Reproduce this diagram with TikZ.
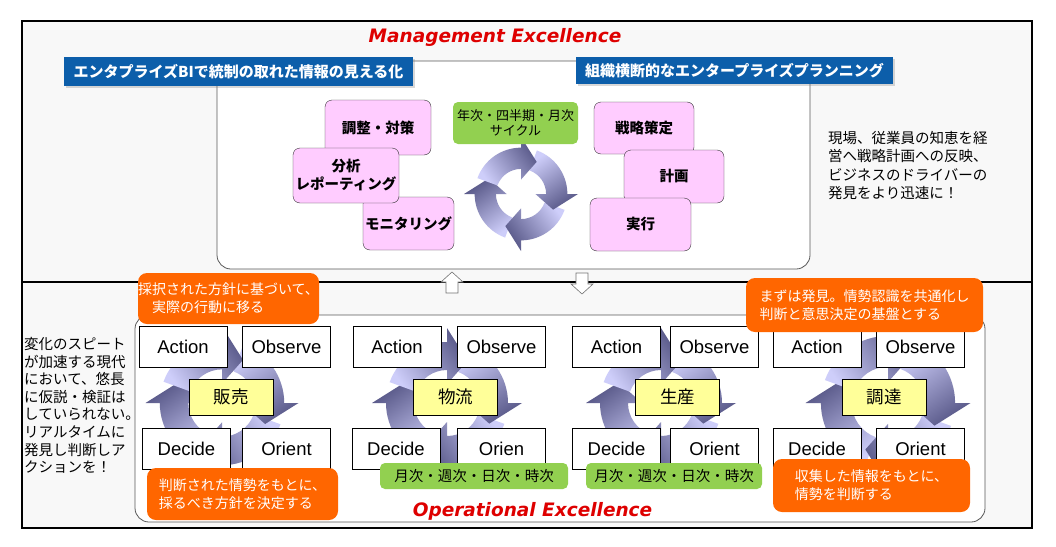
\documentclass[tikz,border=0pt]{standalone}
\usepackage{fontspec}
\setmainfont{Noto Sans CJK JP}
\newfontfamily\latinfont{Liberation Sans}
\newfontfamily\titlefont{DejaVu Sans}
\usetikzlibrary{shadows}
\definecolor{framebg}{RGB}{248,248,248}
\definecolor{bannerblue}{RGB}{12,94,170}
\definecolor{titlered}{RGB}{222,0,0}
\definecolor{boxpink}{RGB}{255,204,255}
\definecolor{labelgreen}{RGB}{146,208,80}
\definecolor{bubbleorange}{RGB}{255,102,0}
\definecolor{areayellow}{RGB}{255,255,153}
\definecolor{ringlight}{RGB}{206,206,250}
\definecolor{ringdark}{RGB}{88,88,136}
% four shaded arrows turning clockwise round (#1,#2), scaled by #3
\newcommand\cyclering[3]{%
  \begin{scope}[shift={(#1,#2)},scale=#3]
    \foreach \h in {180,-90,0,90}{
      \pgfmathsetmacro\sa{\h+35}
      \shade[top color=ringlight,bottom color=ringdark,shading angle=\sa]
        ({-\h-70}:61) arc[start angle={-\h-70},end angle={-\h},radius=61]
        -- ({-\h}:75) -- ({-\h+26}:47) -- ({-\h}:19) -- ({-\h}:33)
        arc[start angle={-\h},end angle={-\h-70},radius=33] -- cycle;
    }
  \end{scope}}
\begin{document}
\begin{tikzpicture}[x=1pt,y=-1pt,
    outerframe/.style={draw,line width=1.6pt,fill=framebg},
    panel/.style={draw=black!65,fill=white,rounded corners=14pt,line width=0.8pt},
    banner/.style={fill=bannerblue,text=white,inner sep=0pt,font=\bfseries\fontsize{15}{15}\selectfont,
      drop shadow={opacity=0.3,shadow xshift=2pt,shadow yshift=-2pt}},
    headline/.style={text=titlered,font=\titlefont\bfseries\itshape\fontsize{18.5}{18.5}\selectfont},
    pinkbox/.style={draw=black!80,fill=boxpink,rounded corners=7pt,inner sep=0pt,align=center,
      font=\bfseries\fontsize{14.5}{18}\selectfont},
    greenlabel/.style={fill=labelgreen,rounded corners=5pt,inner sep=0pt,align=center,
      font=\fontsize{14.5}{15.5}\selectfont},
    oodabox/.style={draw,fill=white,inner sep=0pt,minimum width=88pt,minimum height=41pt,
      font=\latinfont\fontsize{18.5}{18.5}\selectfont},
    areabox/.style={draw,fill=areayellow,inner sep=0pt,minimum width=84pt,minimum height=36pt,
      font=\fontsize{17.5}{17.5}\selectfont},
    bubble/.style={fill=bubbleorange,text=white,rounded corners=9pt,inner sep=0pt,align=left,
      font=\fontsize{14}{18}\selectfont},
    note/.style={inner sep=0pt,align=left,font=\fontsize{14.5}{17.6}\selectfont},
    blockarrow/.style={draw=black!55,fill=white,line width=0.6pt}]
  \fill[white] (0,0) rectangle (1056,546);
  \useasboundingbox (0,0) rectangle (1056,546);

  % management level
  \draw[outerframe] (22,21) rectangle (1032,282);
  \draw[outerframe] (22,282) rectangle (1032,528);
  \draw[panel] (217,61) rectangle (810,269);
  \node[banner,minimum width=349pt,minimum height=29pt] (bi) at (238.5,71.5) {エンタプライズBIで統制の取れた情報の見える化};
  \node[banner,minimum width=317pt,minimum height=27pt] (planning) at (734.5,70.5) {組織横断的なエンタープライズプランニング};
  \node[headline] (mgmt) at (495,37) {Management Excellence};
  \cyclering{521}{194}{0.76}
  \node[greenlabel,minimum width=125pt,minimum height=42pt,font=\fontsize{13}{15.5}\selectfont] (yearly) at (515.5,123) {年次・四半期・月次\\サイクル};
  \node[pinkbox,minimum width=91pt,minimum height=53pt] (monitor) at (408.5,223.5) {モニタリング};
  \node[pinkbox,minimum width=106pt,minimum height=55pt] (adjust) at (378,127.5) {調整・対策};
  \node[pinkbox,minimum width=106pt,minimum height=55pt] (analysis) at (346,175.5) {分析\\レポーティング};
  \node[pinkbox,minimum width=100pt,minimum height=52pt] (strategy) at (644,128) {戦略策定};
  \node[pinkbox,minimum width=100pt,minimum height=53pt] (plan) at (674,176.5) {計画};
  \node[pinkbox,minimum width=101pt,minimum height=53pt] (execute) at (640.5,224.5) {実行};
  \node[note,anchor=west,font=\fontsize{14.5}{18.3}\selectfont] (insight) at (828,165.5) {現場、従業員の知恵を経\\営へ戦略計画への反映、\\ビジネスのドライバーの\\発見をより迅速に！};
  \draw[blockarrow] (446,293) -- (446,282) -- (441,282) -- (452,272) -- (463,282) -- (458,282) -- (458,293) -- cycle;
  \draw[blockarrow] (576,273) -- (576,284) -- (571,284) -- (582,294) -- (593,284) -- (588,284) -- (588,273) -- cycle;

  % operational level
  \draw[panel] (135,315) rectangle (985,522);
  \cyclering{222}{403}{1.02}
  \cyclering{447}{403}{1}
  \cyclering{661}{403}{1}
  \cyclering{888}{403}{1.1}
  \node[oodabox] (act1) at (183,346.5) {Action};
  \node[oodabox] (obs1) at (286.5,346.5) {Observe};
  \node[oodabox] (dec1) at (186.5,448.5) {Decide};
  \node[oodabox] (ori1) at (286.5,448.5) {Orient};
  \node[areabox] (sales) at (231,397) {販売};
  \node[oodabox] (act2) at (397,346.5) {Action};
  \node[oodabox] (obs2) at (501.5,346.5) {Observe};
  \node[oodabox] (dec2) at (396,448.5) {Decide};
  \node[oodabox] (ori2) at (501.5,448.5) {Orien};
  \node[areabox] (logistics) at (455.5,397) {物流};
  \node[oodabox] (act3) at (616.5,346.5) {Action};
  \node[oodabox] (obs3) at (714.5,346.5) {Observe};
  \node[oodabox] (dec3) at (616.5,448.5) {Decide};
  \node[oodabox] (ori3) at (714.5,448.5) {Orient};
  \node[areabox] (production) at (677.5,397) {生産};
  \node[oodabox] (act4) at (817,346.5) {Action};
  \node[oodabox] (obs4) at (920.5,346.5) {Observe};
  \node[oodabox] (dec4) at (817,448.5) {Decide};
  \node[oodabox] (ori4) at (920.5,448.5) {Orient};
  \node[areabox] (purchase) at (884,397) {調達};
  \node[bubble,minimum width=181pt,minimum height=51pt] (acttip) at (228.5,298.5) {採択された方針に基づいて、\\\hspace*{1em}実際の行動に移る};
  \node[bubble,minimum width=191pt,minimum height=52pt] (dectip) at (242.5,494) {判断された情勢をもとに、\\採るべき方針を決定する};
  \node[bubble,minimum width=237pt,minimum height=54pt] (obstip) at (864.5,305) {まずは発見。情勢認識を共通化し\\判断と意思決定の基盤とする};
  \node[bubble,minimum width=197pt,minimum height=53pt] (oritip) at (871.5,485.5) {収集した情報をもとに、\\情勢を判断する};
  \node[greenlabel,minimum width=188pt,minimum height=26pt] (daily2) at (474,476) {月次・週次・日次・時次};
  \node[greenlabel,minimum width=176pt,minimum height=26pt] (daily3) at (674,476) {月次・週次・日次・時次};
  \node[headline] (ops) at (532.5,511) {Operational Excellence};
  \node[note,anchor=west] (speed) at (24,405.5) {変化のスピート\\が加速する現代\\において、悠長\\に仮説・検証は\\していられない。\\リアルタイムに\\発見し判断しア\\クションを！};
\end{tikzpicture}
\end{document}
